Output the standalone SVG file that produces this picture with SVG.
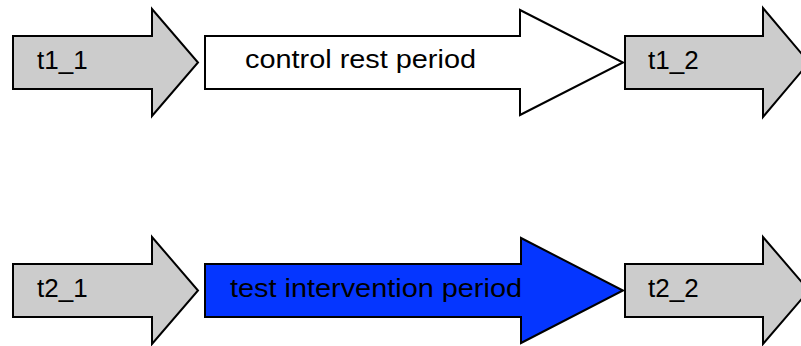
<svg xmlns="http://www.w3.org/2000/svg" width="801" height="346" viewBox="0 0 801 346">
<style>
.a{stroke:#000;stroke-width:2;stroke-linejoin:miter}
.g{fill:#cccccc}
.w{fill:#ffffff}
.b{fill:#0536ff}
text{font-family:"Liberation Sans",Arial,sans-serif;font-size:26px;fill:#000}
</style>
<rect width="801" height="346" fill="#fff"/>
<g id="t1_1"><path class="a g" d="M13,36 H152 V9 L198,62.5 L152,116 V89 H13 Z"/><text x="37" y="69">t1_1</text></g>
<g id="control"><path class="a w" d="M205,36 H520 V10 L623,62.5 L520,115 V89 H205 Z"/><text x="245" y="68" textLength="231" lengthAdjust="spacingAndGlyphs">control rest period</text></g>
<g id="t1_2"><path class="a g" d="M625,36 H763 V8 L809,62.5 L763,117 V89 H625 Z"/><text x="648" y="69">t1_2</text></g>
<g id="t2_1"><path class="a g" d="M13,264 H152 V237 L198,290.5 L152,344 V317 H13 Z"/><text x="37" y="297">t2_1</text></g>
<g id="test"><path class="a b" d="M205,264 H521 V238 L623,290.5 L521,343 V317 H205 Z"/><text x="230" y="297" textLength="292" lengthAdjust="spacingAndGlyphs">test intervention period</text></g>
<g id="t2_2"><path class="a g" d="M625,264 H763 V237 L809,290.5 L763,344 V317 H625 Z"/><text x="648" y="297">t2_2</text></g>
</svg>
